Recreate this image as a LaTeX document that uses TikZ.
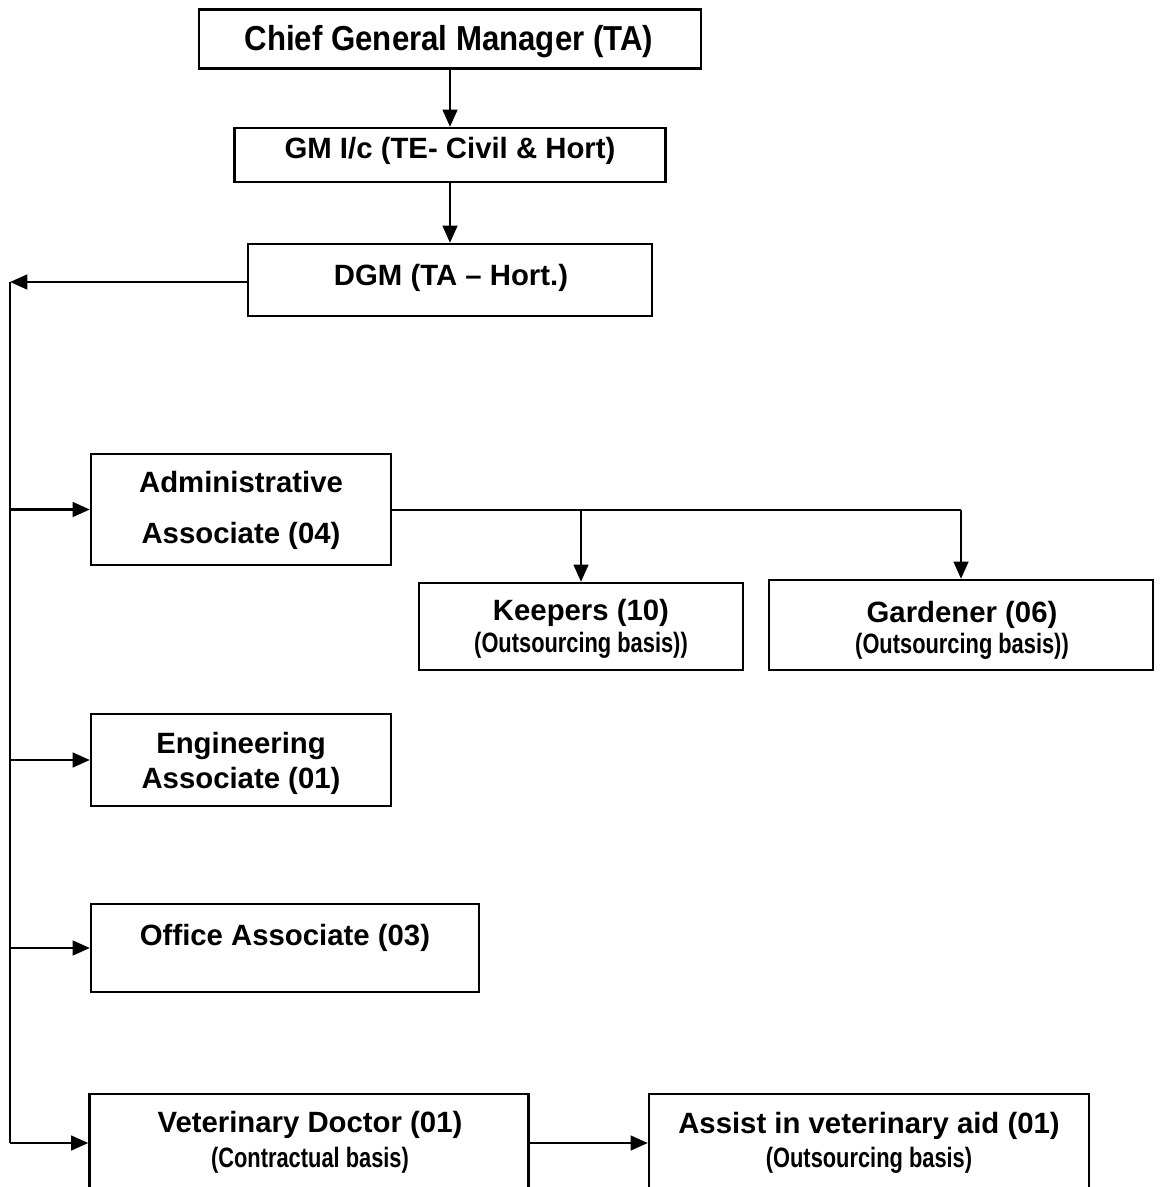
\documentclass[tikz,border=0pt]{standalone}
\usepackage{fontspec}
\setmainfont{Liberation Sans}
\newfontfamily\narrowfont[FakeStretch=0.78]{Liberation Sans}
\newfontfamily\cgmfont[FakeStretch=0.9]{Liberation Sans}
\usetikzlibrary{arrows.meta, positioning}

\tikzset{
    box/.style={draw, line width=1.7pt, inner sep=0pt},
    lbl/.style={font=\bfseries\fontsize{22}{26}\selectfont, inner sep=0pt, text height=16pt, text depth=0pt},
    sublbl/.style={font=\narrowfont\bfseries\fontsize{21}{25}\selectfont, inner sep=0pt, text height=15pt, text depth=0pt},
    arr/.style={-{Triangle[length=13pt,width=11pt]}, line width=2pt},
    thinline/.style={line width=1.5pt}
}

\begin{document}
\begin{tikzpicture}[x=0.75pt, y=-0.75pt]
\useasboundingbox (0,0) rectangle (1160,1187);
\clip (0,0) rectangle (1160,1187);

% Top chain
\node[box, minimum width=376.5pt, minimum height=44.25pt] (cgm) at (450,39) {};
\node[box, minimum width=323.25pt, minimum height=40.5pt] (gm) at (450,155) {};
\node[box, minimum width=303pt, minimum height=54pt] (dgm) at (450,280) {};

\node[lbl, font=\cgmfont\bfseries\fontsize{26}{30}\selectfont, text height=19pt] (cgmT) at (449,38) {Chief General Manager (TA)};
\node[lbl] (gmT) at (450,148) {GM I/c (TE- Civil \& Hort)};
\node[lbl] (dgmT) at (451,275) {DGM (TA -- Hort.)};

\draw[arr] (cgm) -- (gm);
\draw[arr] (gm) -- (dgm);

% Staff boxes
\node[box, minimum width=225pt, minimum height=83.25pt] (admin) at (241,509.5) {};
\node[box, minimum width=243pt, minimum height=65.25pt] (keepers) at (581,626.5) {};
\node[box, minimum width=288pt, minimum height=67.5pt] (gardener) at (961,625) {};
\node[box, minimum width=225pt, minimum height=69pt] (eng) at (241,760) {};
\node[box, minimum width=291pt, minimum height=66pt] (office) at (285,948) {};
\node[box, minimum width=329.25pt, minimum height=73.5pt] (vet) at (309,1143) {};
\node[box, minimum width=330pt, minimum height=73.5pt] (assist) at (869,1143) {};

% Labels
\node[lbl] (adminA) at (241,482) {Administrative};
\node[lbl] (adminB) at (241,533) {Associate (04)};
\node[lbl] (keepersA) at (581,610) {Keepers (10)};
\node[sublbl] (keepersB) at (581,642) {(Outsourcing basis))};
\node[lbl] (gardenerA) at (962,612) {Gardener (06)};
\node[sublbl] (gardenerB) at (962,643) {(Outsourcing basis))};
\node[lbl] (engA) at (241,743) {Engineering};
\node[lbl] (engB) at (241,778) {Associate (01)};
\node[lbl] (officeA) at (285,935) {Office Associate (03)};
\node[lbl] (vetA) at (310,1122) {Veterinary Doctor (01)};
\node[sublbl] (vetB) at (310,1157) {(Contractual basis)};
\node[lbl] (assistA) at (869,1123) {Assist in veterinary aid (01)};
\node[sublbl] (assistB) at (869,1157) {(Outsourcing basis)};

% Left spine
\coordinate (spine) at (10,282);
\draw[arr] (dgm.west |- spine) -- (spine);
\draw[thinline] (spine) -- (spine |- vet.west);
\foreach \b in {admin,eng,office,vet}
{
    \draw[arr] (spine |- \b.west) -- (\b.west);
}

% Admin to keepers and gardener
\draw[thinline] (admin.east) -- (admin.east -| gardener.north);
\foreach \b in {keepers,gardener}
{
    \draw[arr] (admin.east -| \b.north) -- (\b.north);
}

\draw[arr] (vet.east) -- (assist.west);

\end{tikzpicture}
\end{document}
